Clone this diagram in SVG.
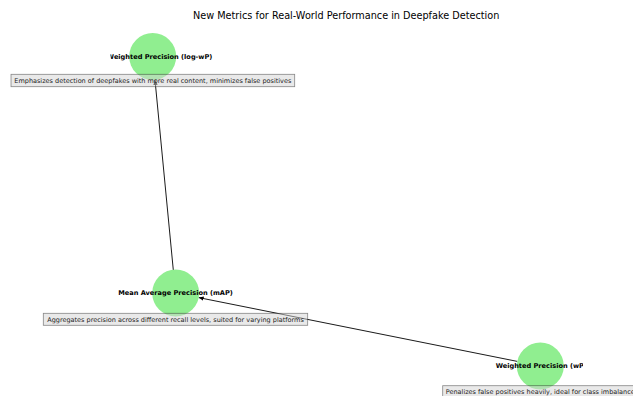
<svg xmlns="http://www.w3.org/2000/svg" width="633" height="396" viewBox="0 0 633 396">
  <defs>
    <marker id="arrow" markerUnits="userSpaceOnUse" markerWidth="6" markerHeight="5" refX="5" refY="2.2" orient="auto">
      <path d="M0,0 L5,2.2 L0,4.4 z" fill="#000"/>
    </marker>
    <clipPath id="axclip">
      <rect x="110.5" y="0" width="472.5" height="396"/>
    </clipPath>
  </defs>
  <style>
    .node { fill: #90ee90; }
    .nlabel { font-family: "DejaVu Sans", sans-serif; font-weight: bold; font-size: 6.6px; fill: #000; }
    .box { fill: #d3d3d3; fill-opacity: 0.5; stroke: #000; stroke-opacity: 0.45; stroke-width: 0.8; }
    .desc { font-family: "DejaVu Sans", sans-serif; font-size: 6.5px; fill: #222; text-anchor: middle; }
    .edge { stroke: #000; stroke-width: 0.9; fill: none; }
    .title { font-family: "DejaVu Sans", sans-serif; font-size: 9.7px; fill: #000; text-anchor: middle; }
  </style>
  <rect width="633" height="396" fill="#fff"/>
  <text class="title" x="346.2" y="19.2">New Metrics for Real-World Performance in Deepfake Detection</text>

  <g id="connectors">
    <line class="edge" x1="173.3" y1="270" x2="155" y2="80" marker-end="url(#arrow)"/>
    <line class="edge" x1="517.3" y1="361.4" x2="198.7" y2="297.6" marker-end="url(#arrow)"/>
  </g>

  <g id="node-logwp">
    <circle class="node" cx="152.7" cy="56.5" r="23.5"/>
    <text class="nlabel" x="212.3" y="58.8" text-anchor="end" clip-path="url(#axclip)">Weighted Precision (log-wP)</text>
    <rect class="box" x="11" y="74.3" width="283.7" height="12.4"/>
    <text class="desc" x="152.8" y="82.8">Emphasizes detection of deepfakes with more real content, minimizes false positives</text>
  </g>

  <g id="node-map">
    <circle class="node" cx="175.7" cy="293" r="23.5"/>
    <text class="nlabel" x="175.5" y="295.3" text-anchor="middle" clip-path="url(#axclip)">Mean Average Precision (mAP)</text>
    <rect class="box" x="43.3" y="313.3" width="264.4" height="12" />
    <text class="desc" x="175.5" y="321.6">Aggregates precision across different recall levels, suited for varying platforms</text>
  </g>

  <g id="node-wp">
    <circle class="node" cx="540.3" cy="366" r="23.5"/>
    <text class="nlabel" x="495.7" y="368.3" text-anchor="start" clip-path="url(#axclip)">Weighted Precision (wP)</text>
    <rect class="box" x="442.7" y="385.7" width="195" height="12.4"/>
    <text class="desc" x="540.3" y="394.2">Penalizes false positives heavily, ideal for class imbalance</text>
  </g>
</svg>
